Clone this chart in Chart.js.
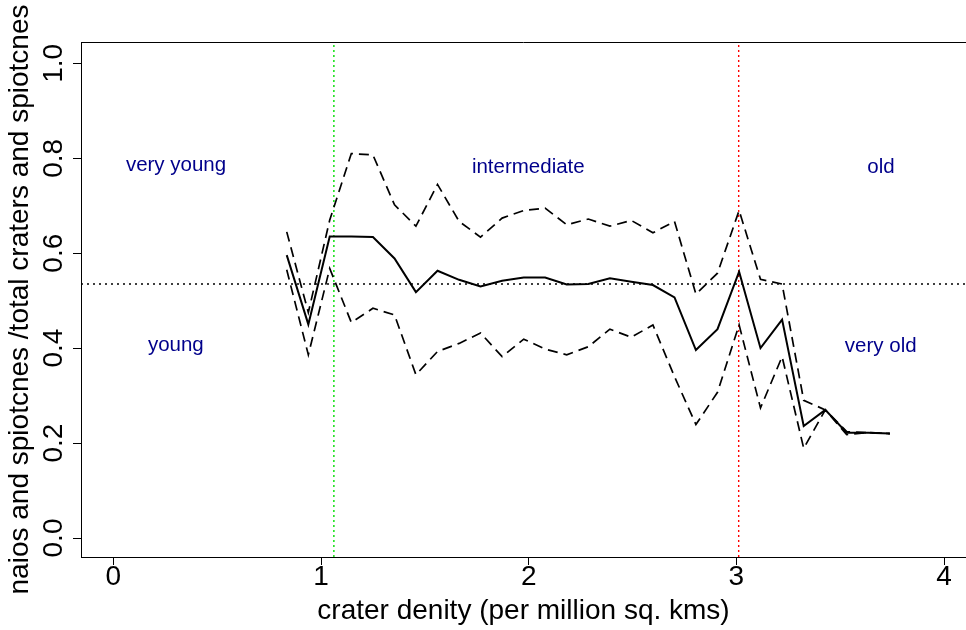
<!DOCTYPE html>
<html>
<head>
<meta charset="utf-8">
<title>crater density</title>
<script src="https://cdn.jsdelivr.net/npm/chart.js@4.4.0/dist/chart.umd.min.js"></script>
<style>
  html, body { margin: 0; padding: 0; background: #fff; }
  canvas { display: block; }
</style>
</head>
<body>
<canvas id="chart" width="966" height="630"></canvas>
<script>
// ---------------- DATA ----------------
const density = [0.835, 0.939, 1.042, 1.146, 1.250, 1.354, 1.457, 1.561, 1.665, 1.768,
                 1.872, 1.976, 2.079, 2.183, 2.287, 2.391, 2.494, 2.598, 2.702, 2.805,
                 2.909, 3.013, 3.116, 3.220, 3.324, 3.428, 3.531, 3.635, 3.739];

const ratioMean  = [0.596, 0.450, 0.635, 0.635, 0.634, 0.589, 0.518, 0.563, 0.544, 0.530,
                    0.542, 0.549, 0.549, 0.534, 0.535, 0.547, 0.540, 0.533, 0.507, 0.396,
                    0.440, 0.561, 0.400, 0.460, 0.236, 0.270, 0.222, 0.222, 0.220];

const ratioUpper = [0.645, 0.475, 0.670, 0.810, 0.807, 0.702, 0.657, 0.745, 0.667, 0.634,
                    0.674, 0.690, 0.695, 0.660, 0.672, 0.657, 0.669, 0.643, 0.667, 0.514,
                    0.558, 0.690, 0.545, 0.535, 0.290, 0.270, 0.224, 0.222, 0.220];

const ratioLower = [0.565, 0.386, 0.568, 0.454, 0.484, 0.470, 0.344, 0.393, 0.410, 0.432,
                    0.382, 0.419, 0.398, 0.386, 0.403, 0.440, 0.423, 0.449, 0.340, 0.239,
                    0.307, 0.449, 0.274, 0.382, 0.189, 0.270, 0.218, 0.222, 0.220];

const xTicks = [0, 1, 2, 3, 4];
const yTicks = [0.0, 0.2, 0.4, 0.6, 0.8, 1.0];

const meanLevel = 0.535;   // horizontal dotted line
const greenCut = 1.062;    // vertical green dotted line
const redCut = 3.011;      // vertical red dotted line

const zoneLabels = ["very young", "young", "intermediate", "old", "very old"];

// ---------------- SETTINGS ----------------
const FONT = "'Liberation Sans', Arial, Helvetica, sans-serif";
const X_MIN = -0.1555, X_MAX = 4.1054;
const Y_MIN = -0.04, Y_MAX = 1.045;

const toPoints = (ys) => density.map((x, i) => ({ x: x, y: ys[i] }));

// ---------------- EXTRA DRAWING ----------------
// top of the box, rotated y tick labels (R style) and the zone labels
const extras = {
  id: "extras",
  afterDraw(chart) {
    const { ctx, chartArea, scales } = chart;
    ctx.save();

    ctx.strokeStyle = "#000";
    ctx.lineWidth = 1;
    ctx.beginPath();
    ctx.moveTo(chartArea.left, chartArea.top + 0.5);
    ctx.lineTo(chartArea.right, chartArea.top + 0.5);
    ctx.stroke();

    ctx.fillStyle = "#000";
    ctx.font = "28px " + FONT;
    ctx.textAlign = "center";
    ctx.textBaseline = "alphabetic";
    yTicks.forEach(v => {
      const py = scales.y.getPixelForValue(v);
      ctx.save();
      ctx.translate(chartArea.left - 19, py);
      ctx.rotate(-Math.PI / 2);
      ctx.fillText(v.toFixed(1), 0, 0);
      ctx.restore();
    });

    // zone names, anchored in data units
    const anchors = [[0.302, 0.786], [0.301, 0.405], [1.998, 0.781], [3.696, 0.781], [3.695, 0.404]];
    ctx.fillStyle = "#00008b";
    ctx.font = "20.5px " + FONT;
    ctx.textBaseline = "middle";
    zoneLabels.forEach((txt, i) => {
      const px = scales.x.getPixelForValue(anchors[i][0]);
      const py = scales.y.getPixelForValue(anchors[i][1]);
      ctx.fillText(txt, px, py);
    });

    ctx.restore();
  }
};

// ---------------- CHART ----------------
new Chart(document.getElementById("chart"), {
  type: "line",
  data: {
    datasets: [
      {
        data: toPoints(ratioMean),
        borderColor: "#000", borderWidth: 2,
        pointRadius: 0, tension: 0
      },
      {
        data: toPoints(ratioUpper),
        borderColor: "#000", borderWidth: 1.7, borderDash: [10, 6],
        pointRadius: 0, tension: 0
      },
      {
        data: toPoints(ratioLower),
        borderColor: "#000", borderWidth: 1.7, borderDash: [10, 6],
        pointRadius: 0, tension: 0
      },
      {
        data: [{ x: X_MIN, y: meanLevel }, { x: X_MAX, y: meanLevel }],
        borderColor: "#000", borderWidth: 1.4, borderDash: [2, 4],
        pointRadius: 0
      },
      {
        data: [{ x: greenCut, y: Y_MIN }, { x: greenCut, y: Y_MAX }],
        borderColor: "#00dd00", borderWidth: 1.4, borderDash: [2, 3],
        pointRadius: 0
      },
      {
        data: [{ x: redCut, y: Y_MIN }, { x: redCut, y: Y_MAX }],
        borderColor: "#ff0000", borderWidth: 1.4, borderDash: [2, 3],
        pointRadius: 0
      }
    ]
  },
  options: {
    responsive: false,
    animation: false,
    devicePixelRatio: 1,
    layout: { padding: { top: 42, right: 0, bottom: 0, left: 0 } },
    plugins: { legend: { display: false }, tooltip: { enabled: false } },
    scales: {
      x: {
        type: "linear",
        min: X_MIN, max: X_MAX,
        afterFit: (s) => { s.height = 73; },
        afterBuildTicks: (s) => { s.ticks = xTicks.map(v => ({ value: v })); },
        grid: { drawOnChartArea: false, drawTicks: true, tickLength: 8, color: "#000" },
        border: { display: true, color: "#000", width: 1 },
        ticks: {
          color: "#000", padding: -2, maxRotation: 0,
          font: { family: FONT, size: 28, lineHeight: 1 },
          callback: (v) => String(v)
        },
        title: {
          display: true,
          text: "crater denity (per million sq. kms)",
          color: "#000",
          font: { family: FONT, size: 28 },
          padding: { top: 0, bottom: 2 }
        }
      },
      y: {
        type: "linear",
        min: Y_MIN, max: Y_MAX,
        afterFit: (s) => { s.width = 81; },
        afterBuildTicks: (s) => { s.ticks = yTicks.map(v => ({ value: v })); },
        grid: { drawOnChartArea: false, drawTicks: true, tickLength: 8, color: "#000" },
        border: { display: true, color: "#000", width: 1 },
        ticks: { display: false },
        title: {
          display: true,
          text: "naios and spiotcnes /total craters and spiotcnes",
          color: "#000",
          font: { family: FONT, size: 28 },
          padding: { top: 3.5, bottom: 0 }
        }
      }
    }
  },
  plugins: [extras]
});
</script>
</body>
</html>
